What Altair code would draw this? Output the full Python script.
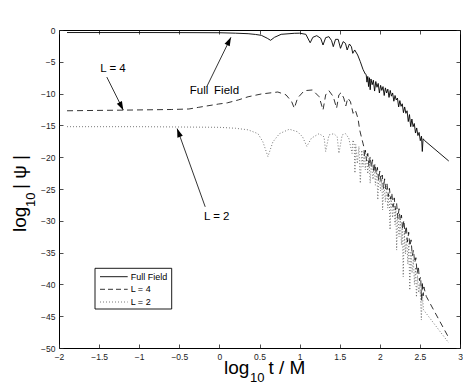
import altair as alt
import pandas as pd

# ---------------- data ----------------
ff_x = [-1.9, -1.0, -0.5, 0.0, 0.2, 0.358, 0.45, 0.523, 0.597, 0.638, 0.687, 0.77, 0.934, 1.0, 1.078,
        1.132, 1.165, 1.214, 1.263, 1.292, 1.325, 1.366, 1.399, 1.42, 1.448, 1.481, 1.51, 1.543, 1.572,
        1.593, 1.621, 1.646, 1.663, 1.687, 1.724, 1.757, 1.79, 1.819,
        1.830, 1.840, 1.850, 1.860, 1.870, 1.880, 1.890, 1.905, 1.920, 1.935, 1.950, 1.965, 1.980, 1.995,
        2.010, 2.025, 2.040, 2.055, 2.070, 2.085, 2.100, 2.115, 2.130, 2.145, 2.160, 2.175, 2.190, 2.205,
        2.220, 2.235, 2.250, 2.265, 2.280, 2.295, 2.310, 2.325, 2.340, 2.355, 2.370, 2.385, 2.400, 2.415,
        2.430, 2.445, 2.460, 2.475, 2.490, 2.505, 2.520, 2.530, 2.540, 2.560, 2.860]
ff_y = [-0.4, -0.4, -0.41, -0.43, -0.5, -0.58, -0.7, -0.84, -1.3, -1.62, -1.15, -0.68, -0.52, -0.5, -0.68,
        -2.0, -1.15, -0.89, -1.3, -2.36, -1.2, -1.05, -1.68, -2.62, -1.47, -1.47, -2.88, -1.83, -2.1,
        -3.14, -2.2, -2.62, -3.67, -3.14, -3.93, -4.98, -6.18, -6.92,
        -7.0, -8.2, -7.3, -8.9, -7.5, -9.4, -7.7, -8.6, -7.9, -9.6, -8.1, -9.0, -8.4, -9.9,
        -8.7, -9.5, -8.9, -10.3, -9.1, -9.9, -9.3, -10.6, -9.5, -10.4, -9.9, -11.2, -10.3, -11.0,
        -10.7, -12.1, -11.1, -12.0, -11.6, -13.0, -12.1, -13.1, -12.7, -14.4, -13.3, -15.2, -14.0, -15.2,
        -14.7, -16.2, -15.4, -16.6, -16.1, -17.4, -16.7, -19.1, -17.1, -17.4, -20.6]

l4_x = [-1.9, -1.2, -0.6, -0.38, -0.26, -0.01, 0.1, 0.235, 0.358, 0.523, 0.728, 0.831, 0.901, 0.934,
        0.975, 1.058, 1.16, 1.243, 1.292, 1.325, 1.366, 1.42, 1.461, 1.49, 1.518, 1.551, 1.576, 1.601,
        1.634, 1.667, 1.695, 1.728, 1.749, 1.77, 1.79,
        1.800, 1.810, 1.820, 1.835, 1.850, 1.865, 1.880, 1.895, 1.910, 1.925, 1.940, 1.955, 1.970, 1.985,
        2.000, 2.015, 2.030, 2.045, 2.060, 2.075, 2.090, 2.105, 2.120, 2.135, 2.150, 2.165, 2.180, 2.195,
        2.210, 2.225, 2.240, 2.255, 2.270, 2.285, 2.300, 2.315, 2.330, 2.345, 2.360, 2.375, 2.390, 2.405,
        2.420, 2.435, 2.450, 2.465, 2.480, 2.495, 2.510, 2.520, 2.530, 2.540, 2.550, 2.565, 2.580, 2.860]
l4_y = [-12.7, -12.6, -12.5, -12.42, -12.16, -11.64, -11.45, -11.0, -10.5, -10.06, -9.75, -10.2, -11.27, -12.3,
        -10.7, -9.54, -9.43, -10.48, -12.58, -10.2, -9.54, -10.48, -12.3, -10.2, -9.85, -10.7, -11.95, -10.7,
        -11.27, -13.1, -12.6, -13.9, -15.7, -16.8, -17.8,
        -18.3, -20.0, -18.9, -20.6, -19.4, -21.5, -19.9, -21.6, -20.4, -22.4, -21.0, -22.6, -21.6, -23.6,
        -22.2, -23.8, -22.8, -24.9, -23.4, -25.0, -24.2, -26.2, -24.9, -26.6, -25.6, -27.8, -26.4, -28.3,
        -27.3, -29.6, -28.1, -30.0, -29.1, -31.4, -29.9, -32.0, -30.8, -33.3, -31.8, -34.0, -33.0, -35.5,
        -34.6, -36.6, -35.8, -38.3, -37.1, -39.4, -38.8, -42.5, -39.6, -41.8, -40.4, -41.2, -41.9, -48.4]

l2_x = [-1.9, -1.0, 0.0, 0.2, 0.358, 0.481, 0.543, 0.605, 0.667, 0.749, 0.872, 0.975, 1.037, 1.09, 1.148,
        1.243, 1.305, 1.325, 1.366, 1.428, 1.469, 1.49, 1.531, 1.572, 1.613, 1.654, 1.665,
        1.680, 1.690, 1.700, 1.720, 1.740, 1.757, 1.775, 1.790, 1.805, 1.820, 1.835, 1.850, 1.865, 1.880,
        1.895, 1.915, 1.930, 1.945, 1.963, 1.975, 1.990, 2.010, 2.025, 2.035, 2.050, 2.070, 2.085, 2.100,
        2.115, 2.128, 2.140, 2.160, 2.175, 2.190, 2.200, 2.210, 2.225, 2.240, 2.255, 2.270, 2.280, 2.292,
        2.305, 2.320, 2.335, 2.350, 2.362, 2.374, 2.388, 2.402, 2.418, 2.432, 2.445, 2.457, 2.470, 2.485,
        2.500, 2.518, 2.530, 2.545, 2.860]
l2_y = [-15.2, -15.2, -15.3, -15.45, -15.7, -16.3, -17.6, -19.9, -17.6, -16.3, -15.6, -16.0, -16.8, -18.3, -17.0,
        -16.3, -16.8, -19.1, -16.5, -16.3, -16.8, -19.4, -16.5, -16.3, -17.0, -19.4, -17.3,
        -17.8, -22.5, -18.0, -21.0, -18.3, -24.1, -18.9, -21.5, -19.2, -22.0, -19.6, -22.6, -20.1, -24.1,
        -20.7, -23.5, -21.2, -24.4, -21.9, -26.7, -22.6, -25.3, -23.3, -28.3, -23.9, -27.0, -24.6, -28.0,
        -25.4, -31.4, -26.2, -29.5, -27.1, -30.6, -27.9, -34.6, -28.8, -32.5, -29.7, -33.8, -30.6, -38.8,
        -31.6, -35.2, -32.6, -36.8, -33.6, -40.9, -34.8, -38.2, -36.0, -40.0, -37.3, -42.0, -38.6, -41.3,
        -39.8, -45.6, -41.5, -44.0, -49.2]

series_names = ["Full Field", "L = 4", "L = 2"]
x_ticks = [-2, -1.5, -1, -0.5, 0, 0.5, 1, 1.5, 2, 2.5, 3]
y_ticks = [-50, -45, -40, -35, -30, -25, -20, -15, -10, -5, 0]

# annotation labels with arrows: text anchor, arrow start, arrow tip, head angle
ann_text = ["Full\u2002Field", "L = 4", "L = 2"]
ann_tx = [-0.062, -1.327, -0.033]
ann_ty = [-9.64, -6.1, -29.4]
arr_x0 = [-0.157, -1.404, -0.177]
arr_y0 = [-8.9, -7.4, -27.8]
arr_x1 = [0.144, -1.198, -0.527]
arr_y1 = [-1.15, -12.6, -15.5]
arr_ang = [26, 153, 340]

# ---------------- tables ----------------
df = pd.concat([
    pd.DataFrame({"x": ff_x, "y": ff_y, "series": series_names[0]}),
    pd.DataFrame({"x": l4_x, "y": l4_y, "series": series_names[1]}),
    pd.DataFrame({"x": l2_x, "y": l2_y, "series": series_names[2]}),
], ignore_index=True)
ann = pd.DataFrame({"tx": ann_tx, "ty": ann_ty, "label": ann_text,
                    "x0": arr_x0, "y0": arr_y0, "x1": arr_x1, "y1": arr_y1, "ang": arr_ang})

FONT = "Liberation Sans"
xs = alt.Scale(domain=[-2, 3], nice=False, zero=False)
ys = alt.Scale(domain=[-50, 0], nice=False, zero=False)

common_axis = dict(offset=-4, tickSize=4, domain=False, grid=False, tickColor="#222",
                   tickWidth=0.8, labelFont=FONT, labelFontSize=8.5, labelColor="#222",
                   labelPadding=4, format="~g", title=None, labelFlush=False)
x_axis = alt.Axis(orient="bottom", values=x_ticks, **common_axis)
y_axis = alt.Axis(orient="left", values=y_ticks, **common_axis)
x_top = alt.Axis(orient="top", values=x_ticks, labels=False, offset=-4, tickSize=4, domain=False,
                 grid=False, tickColor="#222", tickWidth=0.8, title=None)
y_right = alt.Axis(orient="right", values=y_ticks, labels=False, offset=-4, tickSize=4, domain=False,
                   grid=False, tickColor="#222", tickWidth=0.8, title=None)

base = alt.Chart(df)

ff_line = base.transform_filter(alt.datum.series == series_names[0]).mark_line(
    color="black", strokeWidth=0.9).encode(
    x=alt.X("x:Q", scale=xs, axis=x_axis), y=alt.Y("y:Q", scale=ys, axis=y_axis), order="x:Q")
l4_line = base.transform_filter(alt.datum.series == series_names[1]).mark_line(
    color="black", strokeWidth=0.8, strokeDash=[6, 4]).encode(
    x=alt.X("x:Q", scale=xs, axis=None), y=alt.Y("y:Q", scale=ys, axis=None), order="x:Q")
l2_line = base.transform_filter(alt.datum.series == series_names[2]).mark_line(
    color="#555", strokeWidth=0.8, strokeDash=[1, 2]).encode(
    x=alt.X("x:Q", scale=xs, axis=None), y=alt.Y("y:Q", scale=ys, axis=None), order="x:Q")

frame_ticks = base.mark_point(opacity=0).encode(
    x=alt.X("x:Q", scale=xs, axis=x_top), y=alt.Y("y:Q", scale=ys, axis=y_right))

a = alt.Chart(ann)
ann_txt = a.mark_text(font=FONT, fontSize=11.5, color="black", align="center", baseline="middle").encode(
    x=alt.X("tx:Q", scale=xs, axis=None), y=alt.Y("ty:Q", scale=ys, axis=None), text="label:N")
ann_rule = a.mark_rule(color="black", strokeWidth=0.8).encode(
    x=alt.X("x0:Q", scale=xs, axis=None), y=alt.Y("y0:Q", scale=ys, axis=None), x2="x1:Q", y2="y1:Q")
ann_head = a.mark_point(shape="M0,0 L-0.33,1 L0.33,1 Z", filled=True, size=300, color="black",
                        opacity=1).encode(
    x=alt.X("x1:Q", scale=xs, axis=None), y=alt.Y("y1:Q", scale=ys, axis=None),
    angle=alt.Angle("ang:Q", scale=None))

one = alt.Data(values=[{}])

def txt(s, x, y, size, angle=0, align="left"):
    return alt.Chart(one).mark_text(text=s, font=FONT, fontSize=size, color="black", align=align,
                                    baseline="alphabetic", angle=angle).encode(
        x=alt.value(x), y=alt.value(y))

titles = [
    txt("log", 165, 343.5, 19), txt("10", 191, 351.5, 13), txt("t / M", 209.5, 343.5, 19),
    txt("log", -33, 202, 19, angle=270), txt("10", -24.5, 177, 13, angle=270),
    txt("| ψ |", -33, 159, 19, angle=270),
]

# manual legend box
leg_box = alt.Chart(one).mark_rect(fill="white", stroke="black", strokeWidth=0.9).encode(
    x=alt.value(36), x2=alt.value(112.7), y=alt.value(238.3), y2=alt.value(279))
leg_rows = [246.7, 259.3, 272]
leg_styles = [dict(color="black", strokeWidth=0.9),
              dict(color="black", strokeWidth=0.8, strokeDash=[5, 3]),
              dict(color="#555", strokeWidth=0.8, strokeDash=[1, 2])]
leg_layers = [leg_box]
for name, yy, st in zip(series_names, leg_rows, leg_styles):
    leg_layers.append(alt.Chart(one).mark_rule(**st).encode(
        x=alt.value(41), x2=alt.value(68.7), y=alt.value(yy)))
    leg_layers.append(alt.Chart(one).mark_text(text=name, font=FONT, fontSize=9, color="black",
                                               align="left", baseline="middle").encode(
        x=alt.value(71.7), y=alt.value(yy)))

chart = alt.layer(
    ff_line, l4_line, l2_line, frame_ticks, ann_rule, ann_head, ann_txt, *leg_layers, *titles
).resolve_axis(x="independent", y="independent").properties(
    width=401, height=318,
    autosize=alt.AutoSizeParams(type="none"),
    padding={"left": 51, "top": 22, "right": 3, "bottom": 36},
).configure_view(stroke="black", strokeWidth=1)

chart.save("out.html", embed_options={"renderer": "svg", "actions": False})
